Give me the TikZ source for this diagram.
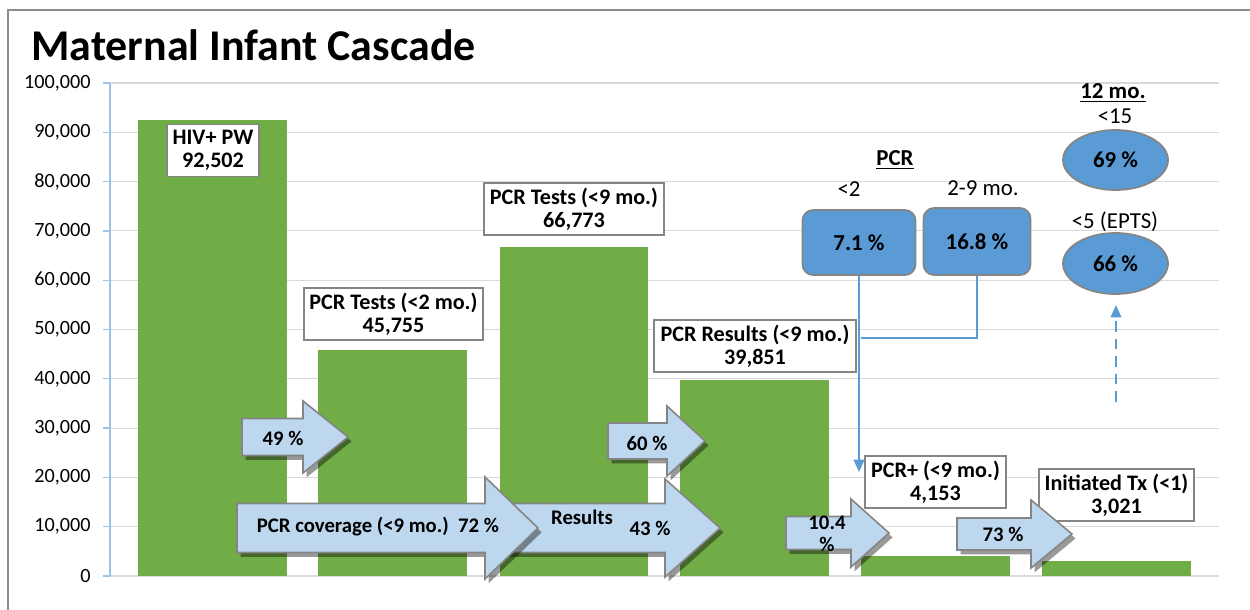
\documentclass[tikz,border=0pt]{standalone}
\usepackage{fontspec}
\setmainfont{Carlito}
\usetikzlibrary{shadows,arrows.meta,shapes.geometric}

\definecolor{bargreen}{HTML}{70AD47}
\definecolor{shapeblue}{HTML}{5B9BD5}
\definecolor{flowblue}{HTML}{BDD7EE}
\definecolor{edgegray}{HTML}{858585}
\definecolor{gridgray}{HTML}{D9D9D9}
\definecolor{axisblue}{HTML}{9DC3E6}
\definecolor{framegray}{HTML}{8C8C8C}

% block arrow: #1 tail x, #2 neck x, #3 tip x, #4 centre y, #5 half shaft, #6 half head
\newcommand{\flowarrow}[6]{%
  \path[flow] (#1,#4-#5) -- (#2,#4-#5) -- (#2,#4-#6) -- (#3,#4)
    -- (#2,#4+#6) -- (#2,#4+#5) -- (#1,#4+#5) -- cycle;}

\tikzset{
  bar/.style={fill=bargreen, draw=none},
  gridline/.style={draw=gridgray, line width=0.6pt},
  axisline/.style={draw=axisblue, line width=0.7pt},
  ticklabel/.style={anchor=east, inner sep=0, font=\fontsize{11.5}{13}\selectfont},
  valbox/.style={draw=edgegray, line width=1pt, fill=white, inner sep=0,
    align=center, font=\bfseries\fontsize{12.6}{13}\selectfont},
  flow/.style={fill=flowblue, draw=edgegray, line width=0.9pt,
    drop shadow={shadow xshift=2pt, shadow yshift=-2.5pt, opacity=0.4, fill=black}},
  flowtext/.style={inner sep=0, align=center, font=\bfseries\fontsize{11.8}{13.5}\selectfont},
  pcrbox/.style={rounded corners=6pt, fill=shapeblue, draw=edgegray, line width=1pt,
    inner sep=0, font=\bfseries\fontsize{13}{15}\selectfont},
  rateoval/.style={ellipse, fill=shapeblue, draw=edgegray, line width=1pt,
    inner sep=0, font=\bfseries\fontsize{13}{15}\selectfont},
  caption/.style={inner sep=0, font=\fontsize{13}{15}\selectfont},
  heading/.style={inner sep=0, font=\bfseries\fontsize{13}{15}\selectfont},
  conn/.style={draw=shapeblue, line width=1.3pt},
  tip/.style={-{Triangle[length=7pt,width=6pt]}},
}

\begin{document}
\begin{tikzpicture}[x=0.02cm, y=-0.02cm]
\useasboundingbox (0,0) rectangle (1250,609);
\fill[white] (0,0) rectangle (1250,609);

% chart frame (top and left edges)
\draw[framegray, line width=1.2pt] (8,640) -- (8,10) -- (1270,10);

% title
\node[anchor=base west, inner sep=0, font=\bfseries\fontsize{25}{29}\selectfont]
  (title) at (31,60) {Maternal Infant Cascade};

% gridlines, value axis and tick labels
\foreach \i/\lab in {0/0,1/{10,000},2/{20,000},3/{30,000},4/{40,000},5/{50,000},
                     6/{60,000},7/{70,000},8/{80,000},9/{90,000},10/{100,000}} {
  \draw[gridline] (110,576-49.3*\i) -- (1219,576-49.3*\i);
  \draw[axisline] (103,576-49.3*\i) -- (110,576-49.3*\i);
  \node[ticklabel] (y\i) at (91,576-49.3*\i) {\lab};
}
\draw[axisline] (110,83) -- (110,576);

% bars
\fill[bar] (138,576) rectangle (287,120);
\fill[bar] (318,576) rectangle (467,350);
\fill[bar] (500,576) rectangle (648,247);
\fill[bar] (680,576) rectangle (829,379.5);
\fill[bar] (861,576) rectangle (1010,555.5);
\fill[bar] (1042,576) rectangle (1191,561);

% value labels
\node[valbox, minimum width=1.84cm, minimum height=1.04cm] (hiv) at (213,150.5)
  {HIV+ PW\\92,502};
\node[valbox, minimum width=3.58cm, minimum height=1.04cm] (pcr2) at (393.5,314)
  {PCR Tests (<2 mo.)\\45,755};
\node[valbox, minimum width=3.60cm, minimum height=1.04cm] (pcr9) at (574,209)
  {PCR Tests (<9 mo.)\\66,773};
\node[valbox, minimum width=4.04cm, minimum height=1.04cm] (res9) at (755,346)
  {PCR Results (<9 mo.)\\39,851};
\node[valbox, minimum width=2.82cm, minimum height=1.04cm] (pos9) at (935.5,482)
  {PCR+ (<9 mo.)\\4,153};
\node[valbox, minimum width=3.10cm, minimum height=1.04cm] (init) at (1116.5,495)
  {Initiated Tx (<1)\\3,021};

% PCR positivity boxes
\node[heading] (pcrhead) at (895,160) {\underline{PCR}};
\node[caption] (lt2) at (849,189) {<2};
\node[caption] (m29) at (983,188) {2-9 mo.};
\node[pcrbox, minimum width=2.26cm, minimum height=1.30cm] (b71) at (859,242.5) {7.1 \%};
\node[pcrbox, minimum width=2.14cm, minimum height=1.34cm] (b168) at (977,241.5) {16.8 \%};

% 12-month rates
\node[heading] (mohead) at (1113,93) {\underline{12 mo.}};
\node[caption] (lt15) at (1115,116) {<15};
\node[rateoval, minimum width=2.10cm, minimum height=1.20cm] (e69) at (1115.5,160) {69 \%};
\node[caption] (lt5) at (1115,222) {<5 (EPTS)};
\node[rateoval, minimum width=2.10cm, minimum height=1.22cm] (e66) at (1115.5,263.5) {66 \%};

% connectors
\coordinate (postip) at (859,472);
\coordinate (joint) at (861,338);
\coordinate (dashfoot) at (1116,402);
\coordinate (dashtip) at (1116,305);
\draw[conn] (b168.south) |- (joint);
\draw[conn, tip] (b71.south) -- (postip);
\draw[conn, tip, dashed, dash pattern=on 6pt off 4pt, line width=1.1pt] (dashfoot) -- (dashtip);

% flow arrows
\flowarrow{242}{303}{348}{437}{18.5}{36}
\node[flowtext] (f49) at (283,438) {49 \%};
\flowarrow{608}{667}{705}{441}{18}{35}
\node[flowtext] (f60) at (647,443) {60 \%};
\flowarrow{490}{665}{720}{528}{24.5}{49}
\flowarrow{237}{485}{538}{528}{24.5}{51}
\node[flowtext] (fcov) at (378,527) {PCR coverage (<9 mo.)\ \ 72 \%};
\node[flowtext] (fres) at (582,517) {Results};
\node[flowtext] (f43) at (650,528) {43 \%};
\flowarrow{786}{851}{889}{533}{16.5}{34}
\node[flowtext, font=\bfseries\fontsize{11.8}{12.5}\selectfont] (f104) at (827,534) {10.4\\\%};
\flowarrow{957}{1031}{1072}{534}{16}{34}
\node[flowtext] (f73) at (1003,534) {73 \%};
\end{tikzpicture}
\end{document}
